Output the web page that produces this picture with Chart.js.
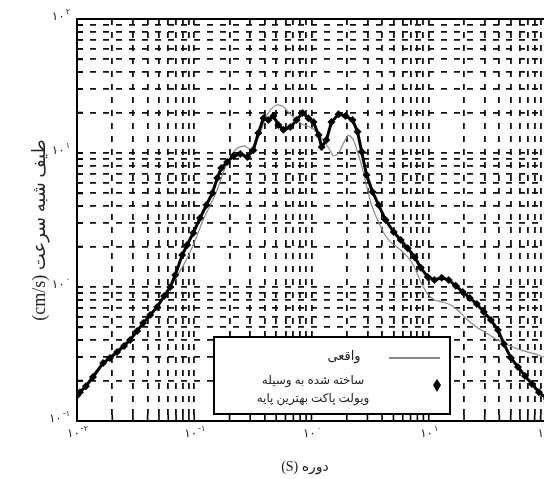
<!DOCTYPE html>
<html>
<head>
<meta charset="utf-8">
<script src="https://cdn.jsdelivr.net/npm/chart.js@4.4.1/dist/chart.umd.min.js"></script>
<style>
html, body { margin: 0; padding: 0; background: #fff; overflow: hidden; width: 544px; height: 479px; }
canvas { display: block; }
</style>
</head>
<body>
<canvas id="spectre" width="552" height="479"></canvas>
<script>
// periode (s) / pseudo-vitesse (cm/s)
const periodeOndelette = [0.0100, 0.0106, 0.0119, 0.0137, 0.0167, 0.0191, 0.0220, 0.0252, 0.0284, 0.0326,
  0.0367, 0.0421, 0.0483, 0.0554, 0.0624, 0.0689, 0.0789, 0.0871, 0.0980, 0.112,
  0.127, 0.143, 0.157, 0.170, 0.191, 0.216, 0.247, 0.284, 0.319, 0.352,
  0.389, 0.429, 0.473, 0.522, 0.576, 0.662, 0.745, 0.838, 0.942, 1.04,
  1.15, 1.22, 1.34, 1.48, 1.70, 1.95, 2.24, 2.47, 2.68, 2.95,
  3.32, 3.74, 4.29, 5.02, 5.76, 6.62, 7.59, 8.55, 9.80, 11.2,
  12.9, 14.8, 17.0, 19.5, 22.4, 25.7, 29.5, 33.9, 38.9, 43.8,
  50.2, 57.7, 66.2, 75.9, 87.1, 102];
const vitesseOndelette = [0.154, 0.164, 0.182, 0.213, 0.271, 0.295, 0.327, 0.363, 0.402, 0.470,
  0.538, 0.618, 0.710, 0.857, 1.00, 1.23, 1.73, 2.06, 2.53, 3.27,
  4.09, 5.03, 6.50, 7.73, 8.57, 9.50, 9.84, 9.33, 10.5, 14.1,
  18.2, 17.6, 18.9, 16.2, 14.9, 15.6, 17.6, 19.9, 18.2, 17.0,
  13.6, 11.1, 12.5, 17.0, 19.5, 18.9, 17.6, 14.4, 10.2, 6.85,
  5.12, 4.09, 3.16, 2.57, 2.24, 1.95, 1.67, 1.39, 1.19, 1.13,
  1.17, 1.13, 1.02, 0.918, 0.828, 0.747, 0.650, 0.567, 0.478, 0.376,
  0.295, 0.253, 0.217, 0.189, 0.164, 0.146];

const periodeReel = [0.0100, 0.0157, 0.0284, 0.0483, 0.0689, 0.0871, 0.102, 0.119, 0.137, 0.157,
  0.177, 0.203, 0.233, 0.268, 0.301, 0.332, 0.366, 0.404, 0.446, 0.502,
  0.565, 0.636, 0.716, 0.838, 0.980, 1.10, 1.24, 1.40, 1.54, 1.70,
  1.88, 2.07, 2.28, 2.52, 2.78, 3.19, 3.66, 4.29, 4.92, 5.76,
  6.75, 7.59, 8.55, 9.80, 11.2, 13.2, 15.4, 18.0, 21.5, 26.2,
  31.9, 38.9, 47.3, 57.7, 70.2, 85.5, 102];
const vitesseReel = [0.151, 0.257, 0.416, 0.721, 1.15, 1.64, 2.24, 3.16, 4.09, 5.30,
  7.21, 9.33, 10.9, 11.3, 10.7, 11.9, 14.1, 18.2, 20.9, 22.8,
  22.4, 20.2, 18.2, 16.4, 15.6, 14.4, 12.7, 10.9, 9.50, 10.0,
  11.9, 13.6, 12.5, 9.66, 7.10, 4.31, 3.16, 2.40, 2.10, 1.89,
  1.64, 1.39, 1.09, 0.887, 0.800, 0.773, 0.734, 0.662, 0.567, 0.494,
  0.446, 0.402, 0.369, 0.344, 0.327, 0.311, 0.295];

const expX = [-2, -1, 0, 1, 2];
const expY = [-1, 0, 1, 2];
const expXTexte = ['-۲', '-۱', '۰', '۱', '۲'];
const expYTexte = ['-۱', '۰', '۱', '۲'];
const baseTexte = '۱۰';

const titreX = 'دوره (S)';
const titreY = 'طیف شبه سرعت (cm/s)';
const legendeReel = 'واقعی';
const legendeOndelette = ['ساخته شده به وسیله', 'ویولت پاکت بهترین پایه'];

const police = "'Liberation Serif', 'DejaVu Sans', serif";

function ticksLog(exps) {
  const t = [];
  for (let i = 0; i < exps.length - 1; i++) {
    for (let m = 1; m < 10; m++) t.push({ value: m * Math.pow(10, exps[i]) });
  }
  t.push({ value: Math.pow(10, exps[exps.length - 1]) });
  return t;
}

const grille = {
  color: '#111',
  lineWidth: 1.8,
  drawTicks: false
};

const habillage = {
  id: 'habillage',
  afterDraw(chart) {
    const { ctx, chartArea: a, scales: { x, y } } = chart;
    ctx.save();
    ctx.strokeStyle = '#000';
    ctx.lineWidth = 2;
    ctx.setLineDash([]);
    ctx.strokeRect(a.left, a.top, a.right - a.left, a.bottom - a.top);

    // petites graduations vers l'interieur
    ctx.lineWidth = 1.6;
    ctx.beginPath();
    x.ticks.forEach(t => {
      const px = x.getPixelForValue(t.value);
      ctx.moveTo(px, a.bottom);
      ctx.lineTo(px, a.bottom - 6);
    });
    y.ticks.forEach(t => {
      const py = y.getPixelForValue(t.value);
      ctx.moveTo(a.left, py);
      ctx.lineTo(a.left + 6, py);
    });
    ctx.stroke();

    // etiquettes 10^n
    ctx.fillStyle = '#222';
    ctx.textBaseline = 'alphabetic';
    ctx.textAlign = 'left';
    const fBase = "12px 'DejaVu Sans'";
    const fExp = "8px 'DejaVu Sans'";
    expX.forEach((e, i) => {
      const px = x.getPixelForValue(Math.pow(10, e));
      ctx.font = fBase;
      const w1 = ctx.measureText(baseTexte).width;
      ctx.font = fExp;
      const w2 = ctx.measureText(expXTexte[i]).width;
      const x0 = px - (w1 + w2) / 2;
      ctx.font = fBase;
      ctx.fillText(baseTexte, x0, a.bottom + 16);
      ctx.font = fExp;
      ctx.fillText(expXTexte[i], x0 + w1 + 1, a.bottom + 10);
    });
    expY.forEach((e, i) => {
      const py = y.getPixelForValue(Math.pow(10, e));
      ctx.font = fExp;
      const w2 = ctx.measureText(expYTexte[i]).width;
      ctx.font = fBase;
      const w1 = ctx.measureText(baseTexte).width;
      const x0 = a.left - 8 - w2 - w1;
      ctx.fillText(baseTexte, x0, py + 1);
      ctx.font = fExp;
      ctx.fillText(expYTexte[i], x0 + w1 + 1, py - 5);
    });

    // titres
    ctx.fillStyle = '#222';
    ctx.direction = 'rtl';
    ctx.textAlign = 'center';
    ctx.textBaseline = 'middle';
    ctx.font = '14px ' + police;
    ctx.fillText(titreX, 305, 467);
    ctx.save();
    ctx.translate(40, 230);
    ctx.rotate(-Math.PI / 2);
    ctx.font = '18px ' + police;
    ctx.fillText(titreY, 0, 0);
    ctx.restore();

    // legende
    const L = 214, T = 337, R = 450, B = 414;
    ctx.fillStyle = '#fff';
    ctx.fillRect(L, T, R - L, B - T);
    ctx.strokeStyle = '#000';
    ctx.lineWidth = 2;
    ctx.strokeRect(L, T, R - L, B - T);
    ctx.strokeStyle = '#8a8a8a';
    ctx.lineWidth = 2;
    ctx.beginPath();
    ctx.moveTo(389, 358);
    ctx.lineTo(440, 358);
    ctx.stroke();
    ctx.fillStyle = '#000';
    ctx.beginPath();
    ctx.moveTo(437, 379);
    ctx.lineTo(441, 385);
    ctx.lineTo(437, 392);
    ctx.lineTo(433, 385);
    ctx.closePath();
    ctx.fill();
    ctx.fillStyle = '#222';
    ctx.font = '13px ' + police;
    ctx.fillText(legendeReel, 344, 357);
    ctx.font = '12px ' + police;
    ctx.fillText(legendeOndelette[0], 313, 381);
    ctx.fillText(legendeOndelette[1], 313, 399);
    ctx.restore();
  }
};

new Chart(document.getElementById('spectre'), {
  type: 'line',
  data: {
    datasets: [
      {
        label: legendeOndelette.join(' '),
        data: periodeOndelette.map((p, i) => ({ x: p, y: vitesseOndelette[i] })),
        borderColor: '#000',
        borderWidth: 3,
        pointStyle: 'rectRot',
        pointRadius: 4,
        pointBackgroundColor: '#000',
        pointBorderWidth: 0,
        tension: 0
      },
      {
        label: legendeReel,
        data: periodeReel.map((p, i) => ({ x: p, y: vitesseReel[i] })),
        borderColor: '#8a8a8a',
        borderWidth: 1.2,
        pointRadius: 0,
        tension: 0.2
      }
    ]
  },
  options: {
    responsive: false,
    animation: false,
    layout: { padding: { left: 77, top: 19, right: 6, bottom: 58 } },
    plugins: { legend: { display: false }, tooltip: { enabled: false } },
    scales: {
      x: {
        type: 'logarithmic',
        min: 0.01,
        max: 100,
        afterBuildTicks: s => { s.ticks = ticksLog(expX); },
        ticks: { display: false, autoSkip: false },
        grid: grille,
        border: { display: false, dash: [6, 7] }
      },
      y: {
        type: 'logarithmic',
        min: 0.1,
        max: 100,
        afterBuildTicks: s => { s.ticks = ticksLog(expY); },
        ticks: { display: false, autoSkip: false },
        grid: grille,
        border: { display: false, dash: [6, 7] }
      }
    }
  },
  plugins: [habillage]
});
</script>
</body>
</html>
